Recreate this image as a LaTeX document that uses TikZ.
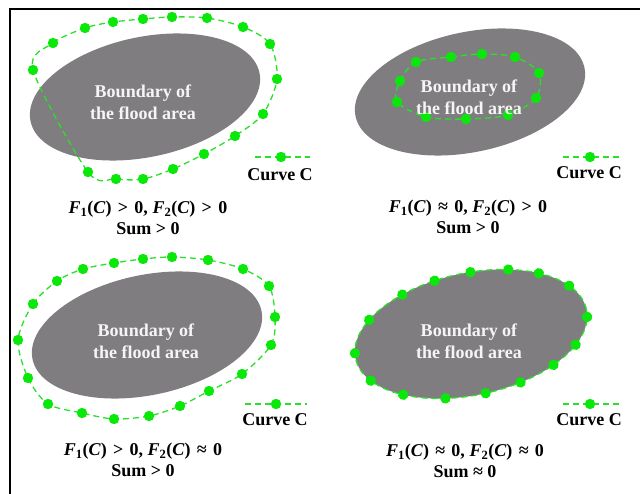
\documentclass[tikz,border=0pt]{standalone}
\usepackage{fontspec}
\setmainfont{Liberation Serif}
\definecolor{flood}{RGB}{127,125,128}
\definecolor{cgreen}{RGB}{10,232,10}
\definecolor{lgreen}{RGB}{40,225,40}
\newcommand\Fn[1]{\textit{F}\textsubscript{#1}(\textit{C})}
\newcommand\myrel[1]{\hspace{0.1em}#1\hspace{0.1em}}
\tikzset{
 curvec/.style={lgreen, line width=1.3pt, dash pattern=on 6pt off 4pt},
 areatext/.style={text=white!96!black, font=\fontsize{18}{22}\selectfont\bfseries, align=center, inner sep=0pt},
 lbl/.style={font=\fontsize{18}{21}\selectfont\bfseries, align=center, inner sep=0pt},
 legtext/.style={font=\fontsize{18}{21}\selectfont\bfseries, inner sep=0pt},
 floodarea/.style={fill=flood},
}
\begin{document}
\begin{tikzpicture}[x=1pt,y=-1pt]
\useasboundingbox (0,0) rectangle (640,494);
\fill[white] (0,0) rectangle (640,494);
\draw[line width=1.3pt] (10,494) -- (10,9) -- (640,9);

% ---------- panel 1
\begin{scope}[shift={(145,97)}, rotate=12]
\fill[floodarea] (0,0) ellipse [x radius=117pt, y radius=60pt];
\end{scope}
\draw[curvec] plot[smooth cycle, tension=0.5] coordinates {(33,70) (53,43) (85,28) (113,22) (143,19) (172,17) (207,18) (243,27) (270,44) (277,79) (263,114) (235,136) (204,154) (173,169) (143,179) (116,179) (88,172)};
\foreach \x/\y in {33/70, 53/43, 85/28, 113/22, 143/19, 172/17, 207/18, 243/27, 270/44, 277/79, 263/114, 235/136, 204/154, 173/169, 143/179, 116/179, 88/172}
  \fill[cgreen] (\x,\y) circle[radius=5.2pt];
\node[areatext] (t1) at (143,102) {Boundary of\\the flood area};
\coordinate (l1a) at (255,157); \coordinate (l1b) at (310,157);
\draw[curvec] (l1a) -- (l1b);
\fill[cgreen] (281,157) circle[radius=5.2pt];
\node[legtext] (c1) at (280,175) {Curve C};
\node[lbl] (f1) at (148,218) {\Fn{1} \myrel{>} 0, \Fn{2} \myrel{>} 0\\Sum > 0};

% ---------- panel 2
\begin{scope}[shift={(470,92)}, rotate=12]
\fill[floodarea] (0,0) ellipse [x radius=117pt, y radius=60pt];
\end{scope}
\draw[curvec] plot[smooth cycle, tension=0.5] coordinates {(416,62) (451,57) (482,54) (515,57) (539,73) (536,98) (508,115) (466,119) (426,117) (397,102) (400,81)};
\foreach \x/\y in {416/62, 451/57, 482/54, 515/57, 539/73, 536/98, 508/115, 466/119, 426/117, 397/102, 400/81}
  \fill[cgreen] (\x,\y) circle[radius=5.2pt];
\node[areatext] (t2) at (469,97) {Boundary of\\the flood area};
\coordinate (l2a) at (563,157); \coordinate (l2b) at (620,157);
\draw[curvec] (l2a) -- (l2b);
\fill[cgreen] (590,157) circle[radius=5.2pt];
\node[legtext] (c2) at (589,173) {Curve C};
\node[lbl] (f2) at (468,217) {\Fn{1} \myrel{≈} 0, \Fn{2} \myrel{>} 0\\Sum > 0};

% ---------- panel 3
\begin{scope}[shift={(147,335)}, rotate=12]
\fill[floodarea] (0,0) ellipse [x radius=117pt, y radius=60pt];
\end{scope}
\draw[curvec] plot[smooth cycle, tension=0.5] coordinates {(18,340) (33,304) (57,281) (83,269) (114,263) (143,259) (172,257) (208,260) (243,269) (269,286) (275,317) (271,345) (242,374) (209,391) (180,406) (149,416) (114,419) (82,413) (48,404) (28,378)};
\foreach \x/\y in {18/340, 33/304, 57/281, 83/269, 114/263, 143/259, 172/257, 208/260, 243/269, 269/286, 275/317, 271/345, 242/374, 209/391, 180/406, 149/416, 114/419, 82/413, 48/404, 28/378}
  \fill[cgreen] (\x,\y) circle[radius=5.2pt];
\node[areatext] (t3) at (146,341) {Boundary of\\the flood area};
\coordinate (l3a) at (245,404); \coordinate (l3b) at (307,404);
\draw[curvec] (l3a) -- (l3b);
\fill[cgreen] (276,404) circle[radius=5.2pt];
\node[legtext] (c3) at (275,420) {Curve C};
\node[lbl] (f3) at (143,460) {\Fn{1} \myrel{>} 0, \Fn{2} \myrel{≈} 0\\Sum > 0};

% ---------- panel 4
\begin{scope}[shift={(471,334)}, rotate=12]
\fill[floodarea] (0,0) ellipse [x radius=118pt, y radius=61pt];
\draw[curvec] (0,0) ellipse [x radius=118pt, y radius=61pt];
\foreach \t in {175, 145, 120, 102, 84, 65, 48, 26, -7, -32, -51, -71, -89, -109, -132, -156}
  \fill[cgreen] (\t:118pt and 61pt) circle[radius=5.2pt];
\end{scope}
\node[areatext] (t4) at (469,341) {Boundary of\\the flood area};
\coordinate (l4a) at (563,404); \coordinate (l4b) at (620,404);
\draw[curvec] (l4a) -- (l4b);
\fill[cgreen] (590,404) circle[radius=5.2pt];
\node[legtext] (c4) at (589,420) {Curve C};
\node[lbl] (f4) at (465,461) {\Fn{1} \myrel{≈} 0, \Fn{2} \myrel{≈} 0\\Sum ≈ 0};
\end{tikzpicture}
\end{document}
